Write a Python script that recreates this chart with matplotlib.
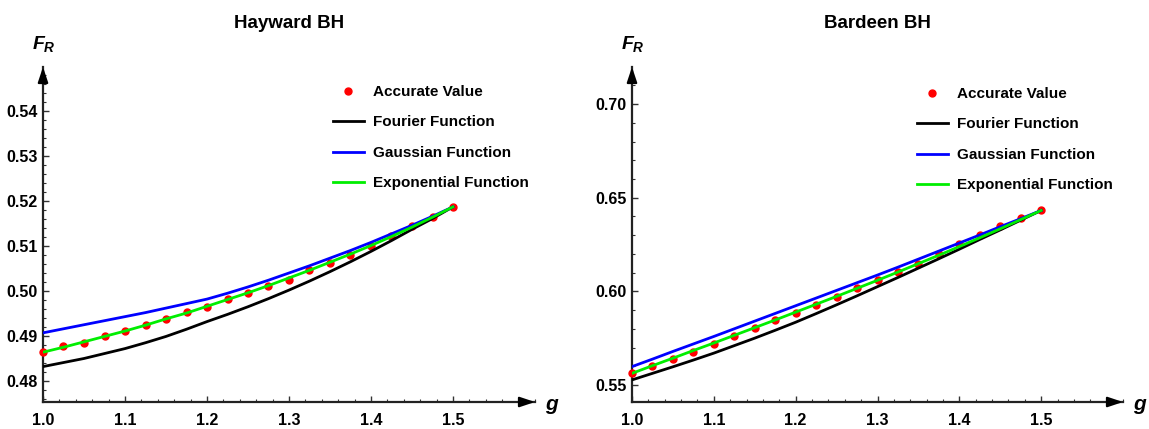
import numpy as np
import matplotlib
matplotlib.use("Agg")
import matplotlib.pyplot as plt
from matplotlib.ticker import MultipleLocator, FormatStrFormatter

plt.rcParams['font.family'] = ['Liberation Sans', 'DejaVu Sans']
plt.rcParams['font.weight'] = 'bold'
plt.rcParams['mathtext.fontset'] = 'custom'
plt.rcParams['mathtext.it'] = 'Liberation Sans:italic'
plt.rcParams['mathtext.rm'] = 'Liberation Sans'

# g grid shared by both black holes
g = [1.0, 1.025, 1.05, 1.075, 1.1, 1.125, 1.15, 1.175, 1.2, 1.225, 1.25,
     1.275, 1.3, 1.325, 1.35, 1.375, 1.4, 1.425, 1.45, 1.475, 1.5]

# Hayward BH
hay_accurate = [0.4865, 0.4878, 0.4885, 0.4900, 0.4912, 0.4924, 0.4938, 0.4953, 0.4964, 0.4982, 0.4995,
                0.5011, 0.5025, 0.5047, 0.5063, 0.5079, 0.5099, 0.5122, 0.5144, 0.5165, 0.5187]
hay_fourier = [0.4832, 0.4841, 0.4850, 0.4861, 0.4872, 0.4885, 0.4899, 0.4915, 0.4932, 0.4948, 0.4965,
               0.4983, 0.5002, 0.5022, 0.5043, 0.5065, 0.5088, 0.5112, 0.5137, 0.5161, 0.5187]
hay_gauss = [0.4907, 0.4916, 0.4925, 0.4934, 0.4943, 0.4952, 0.4962, 0.4972, 0.4982, 0.4995, 0.5009,
             0.5024, 0.5040, 0.5056, 0.5073, 0.5090, 0.5108, 0.5127, 0.5146, 0.5166, 0.5187]
hay_expo = [0.4864, 0.4875, 0.4887, 0.4899, 0.4911, 0.4924, 0.4938, 0.4951, 0.4966, 0.4981, 0.4996,
            0.5012, 0.5029, 0.5046, 0.5064, 0.5082, 0.5101, 0.5121, 0.5142, 0.5164, 0.5187]

# Bardeen BH
bar_accurate = [0.5563, 0.5602, 0.5637, 0.5676, 0.5721, 0.5764, 0.5803, 0.5848, 0.5885, 0.5928, 0.5972,
                0.6019, 0.6059, 0.6103, 0.6148, 0.6201, 0.6252, 0.6299, 0.6347, 0.6393, 0.6432]
bar_fourier = [0.5527, 0.5562, 0.5597, 0.5633, 0.5670, 0.5710, 0.5750, 0.5792, 0.5835, 0.5881, 0.5928,
               0.5976, 0.6025, 0.6074, 0.6124, 0.6174, 0.6225, 0.6277, 0.6328, 0.6380, 0.6432]
bar_gauss = [0.5598, 0.5638, 0.5679, 0.5719, 0.5759, 0.5800, 0.5841, 0.5882, 0.5923, 0.5964, 0.6005,
             0.6046, 0.6087, 0.6129, 0.6172, 0.6215, 0.6258, 0.6301, 0.6345, 0.6388, 0.6432]
bar_expo = [0.5562, 0.5603, 0.5643, 0.5684, 0.5724, 0.5765, 0.5806, 0.5847, 0.5889, 0.5931, 0.5973,
            0.6016, 0.6059, 0.6103, 0.6148, 0.6193, 0.6239, 0.6286, 0.6334, 0.6383, 0.6432]

W, H = 1149, 429
fig = plt.figure(figsize=(W / 100, H / 100), dpi=100)


def px_axes(x0, x1, y_top, y_bot):
    return fig.add_axes([x0 / W, 1 - y_bot / H, (x1 - x0) / W, (y_bot - y_top) / H])


def draw_panel(ax, title, acc, fou, gau, expo, ylim, ymajor, yminor, yfmt, leg_anchor):
    ax.plot(g, acc, 'o', color='red', ms=5, label='Accurate Value', zorder=3, clip_on=False)
    ax.plot(g, fou, color='black', lw=2, label='Fourier Function', zorder=4)
    ax.plot(g, gau, color='blue', lw=2, label='Gaussian Function', zorder=5)
    ax.plot(g, expo, color='#00ee00', lw=2, label='Exponential Function', zorder=6)

    ax.set_xlim(1.0, 1.6)
    ax.set_ylim(*ylim)
    ax.xaxis.set_minor_locator(MultipleLocator(0.02))
    ax.yaxis.set_major_locator(MultipleLocator(ymajor))
    ax.yaxis.set_minor_locator(MultipleLocator(yminor))
    ax.xaxis.set_major_formatter(FormatStrFormatter('%.1f'))
    ax.yaxis.set_major_formatter(FormatStrFormatter(yfmt))
    ax.set_xticks([1.0, 1.1, 1.2, 1.3, 1.4, 1.5])

    for s in ('top', 'right'):
        ax.spines[s].set_visible(False)
    for s in ('left', 'bottom'):
        ax.spines[s].set_linewidth(1.6)
        ax.spines[s].set_color('#222222')
    ax.tick_params(which='both', direction='in', colors='#333333', labelcolor='black',
                   labelsize=11.5)
    ax.tick_params(which='major', length=4.5, width=1)
    ax.tick_params(which='minor', length=2.5, width=0.8)
    ax.tick_params(axis='x', pad=8)
    ax.tick_params(axis='y', pad=4)
    for lab in ax.get_xticklabels() + ax.get_yticklabels():
        lab.set_fontweight('bold')

    # arrow heads at the ends of the axes
    ax.annotate('', xy=(1.0, 0), xytext=(0.97, 0), xycoords='axes fraction',
                arrowprops=dict(arrowstyle='-|>,head_length=0.9,head_width=0.3',
                                color='black', lw=1.6, shrinkA=0, shrinkB=0))
    ax.annotate('', xy=(0, 1.0), xytext=(0, 0.96), xycoords='axes fraction',
                arrowprops=dict(arrowstyle='-|>,head_length=0.9,head_width=0.3',
                                color='black', lw=1.6, shrinkA=0, shrinkB=0))

    ax.set_title(title, fontsize=13.5, fontweight='bold', pad=28)
    ax.annotate(r'$F_R$', xy=(0, 1), xycoords='axes fraction', xytext=(1, 13),
                textcoords='offset pixels', fontsize=14, ha='center', va='bottom')
    ax.annotate(r'$g$', xy=(1, 0), xycoords='axes fraction', xytext=(17, -4),
                textcoords='offset pixels', fontsize=15, ha='center', va='center')

    ax.legend(loc='upper left', bbox_to_anchor=leg_anchor, frameon=False,
              prop=dict(size=11, weight='bold'), handlelength=2.0,
              handletextpad=0.65, labelspacing=1.08, borderaxespad=0, borderpad=0)


ax1 = px_axes(43, 535, 67, 402)
draw_panel(ax1, 'Hayward BH', hay_accurate, hay_fourier, hay_gauss, hay_expo,
           (0.47533, 0.54978), 0.01, 0.002, '%.2f', ((333 - 43) / 492, (67 - 85) / 335 + 1))

ax2 = px_axes(632, 1123, 67, 402)
draw_panel(ax2, 'Bardeen BH', bar_accurate, bar_fourier, bar_gauss, bar_expo,
           (0.5409, 0.7198), 0.05, 0.01, '%.2f', ((917 - 632) / 491, (67 - 87) / 335 + 1))

fig.savefig('out.png', dpi=100)
